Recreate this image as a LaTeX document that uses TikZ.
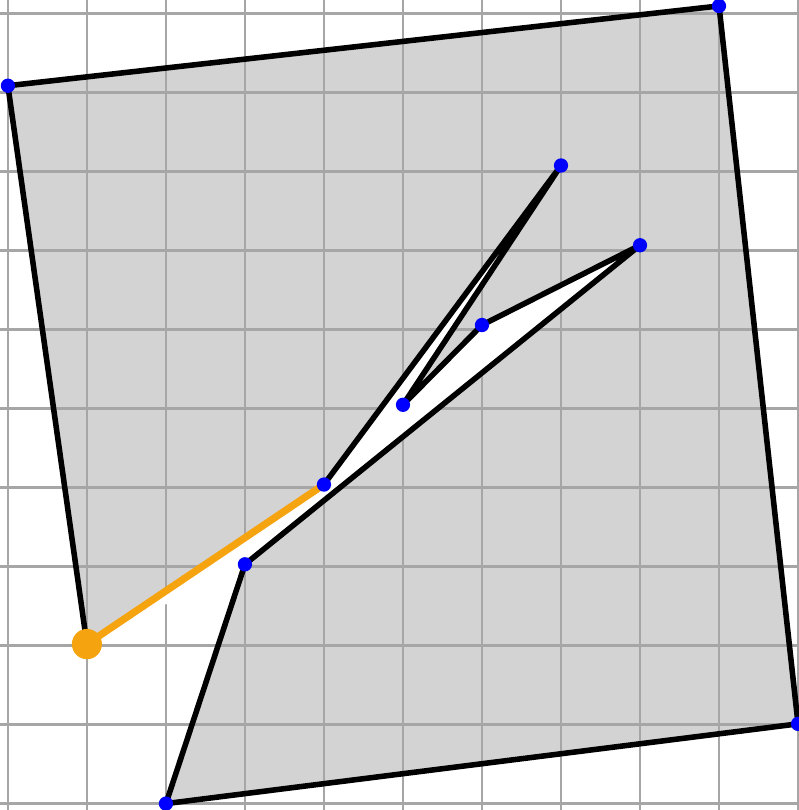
\documentclass[tikz,border=0pt]{standalone}
\usepackage{tikz}
\definecolor{fillgray}{HTML}{D3D3D3}
\definecolor{gridgray}{HTML}{A6A6A6}
\definecolor{hilite}{HTML}{F5A30F}
\tikzset{edge/.style={draw=black,line width=2pt,line join=round,line cap=round},vtx/.style={fill=blue,draw=none}}

\begin{document}
\begin{tikzpicture}[x=1cm,y=1.0095cm,
cur/.style={draw=hilite,line width=2.6pt,line cap=round},
gridline/.style={draw=gridgray,line width=.9pt}]
\useasboundingbox (-0.1,-0.08) rectangle (10.0,10.075);
\coordinate (a) at (0,9);
\coordinate (b) at (9,10);
\coordinate (c) at (10,1);
\coordinate (d) at (2,0);
\coordinate (e) at (3,3);
\coordinate (j) at (8,7);
\coordinate (i) at (6,6);
\coordinate (g) at (5,5);
\coordinate (h) at (7,8);
\coordinate (f) at (4,4);
\coordinate (o) at (1,2);
\fill[fillgray] (a)--(b)--(c)--(d)--(e)--(j)--(i)--(g)--(h)--(f)--(o)--cycle;
\draw[gridline] (-0.1,-0.08) grid (10.0,10.075);
\fill[white] (e)--(j)--(i)--(g)--(h)--(f)--(o)--cycle;
\draw[edge] (o)--(a)--(b)--(c)--(d)--(e)--(j)--(i)--(g)--(h)--(f);
\draw[cur] (f)--(o);
\foreach \p in {a,b,c,d,e,f,g,h,i,j}{\fill[vtx] (\p) circle (.09);}
\fill[hilite] (o) circle (.19);
\end{tikzpicture}
\end{document}
